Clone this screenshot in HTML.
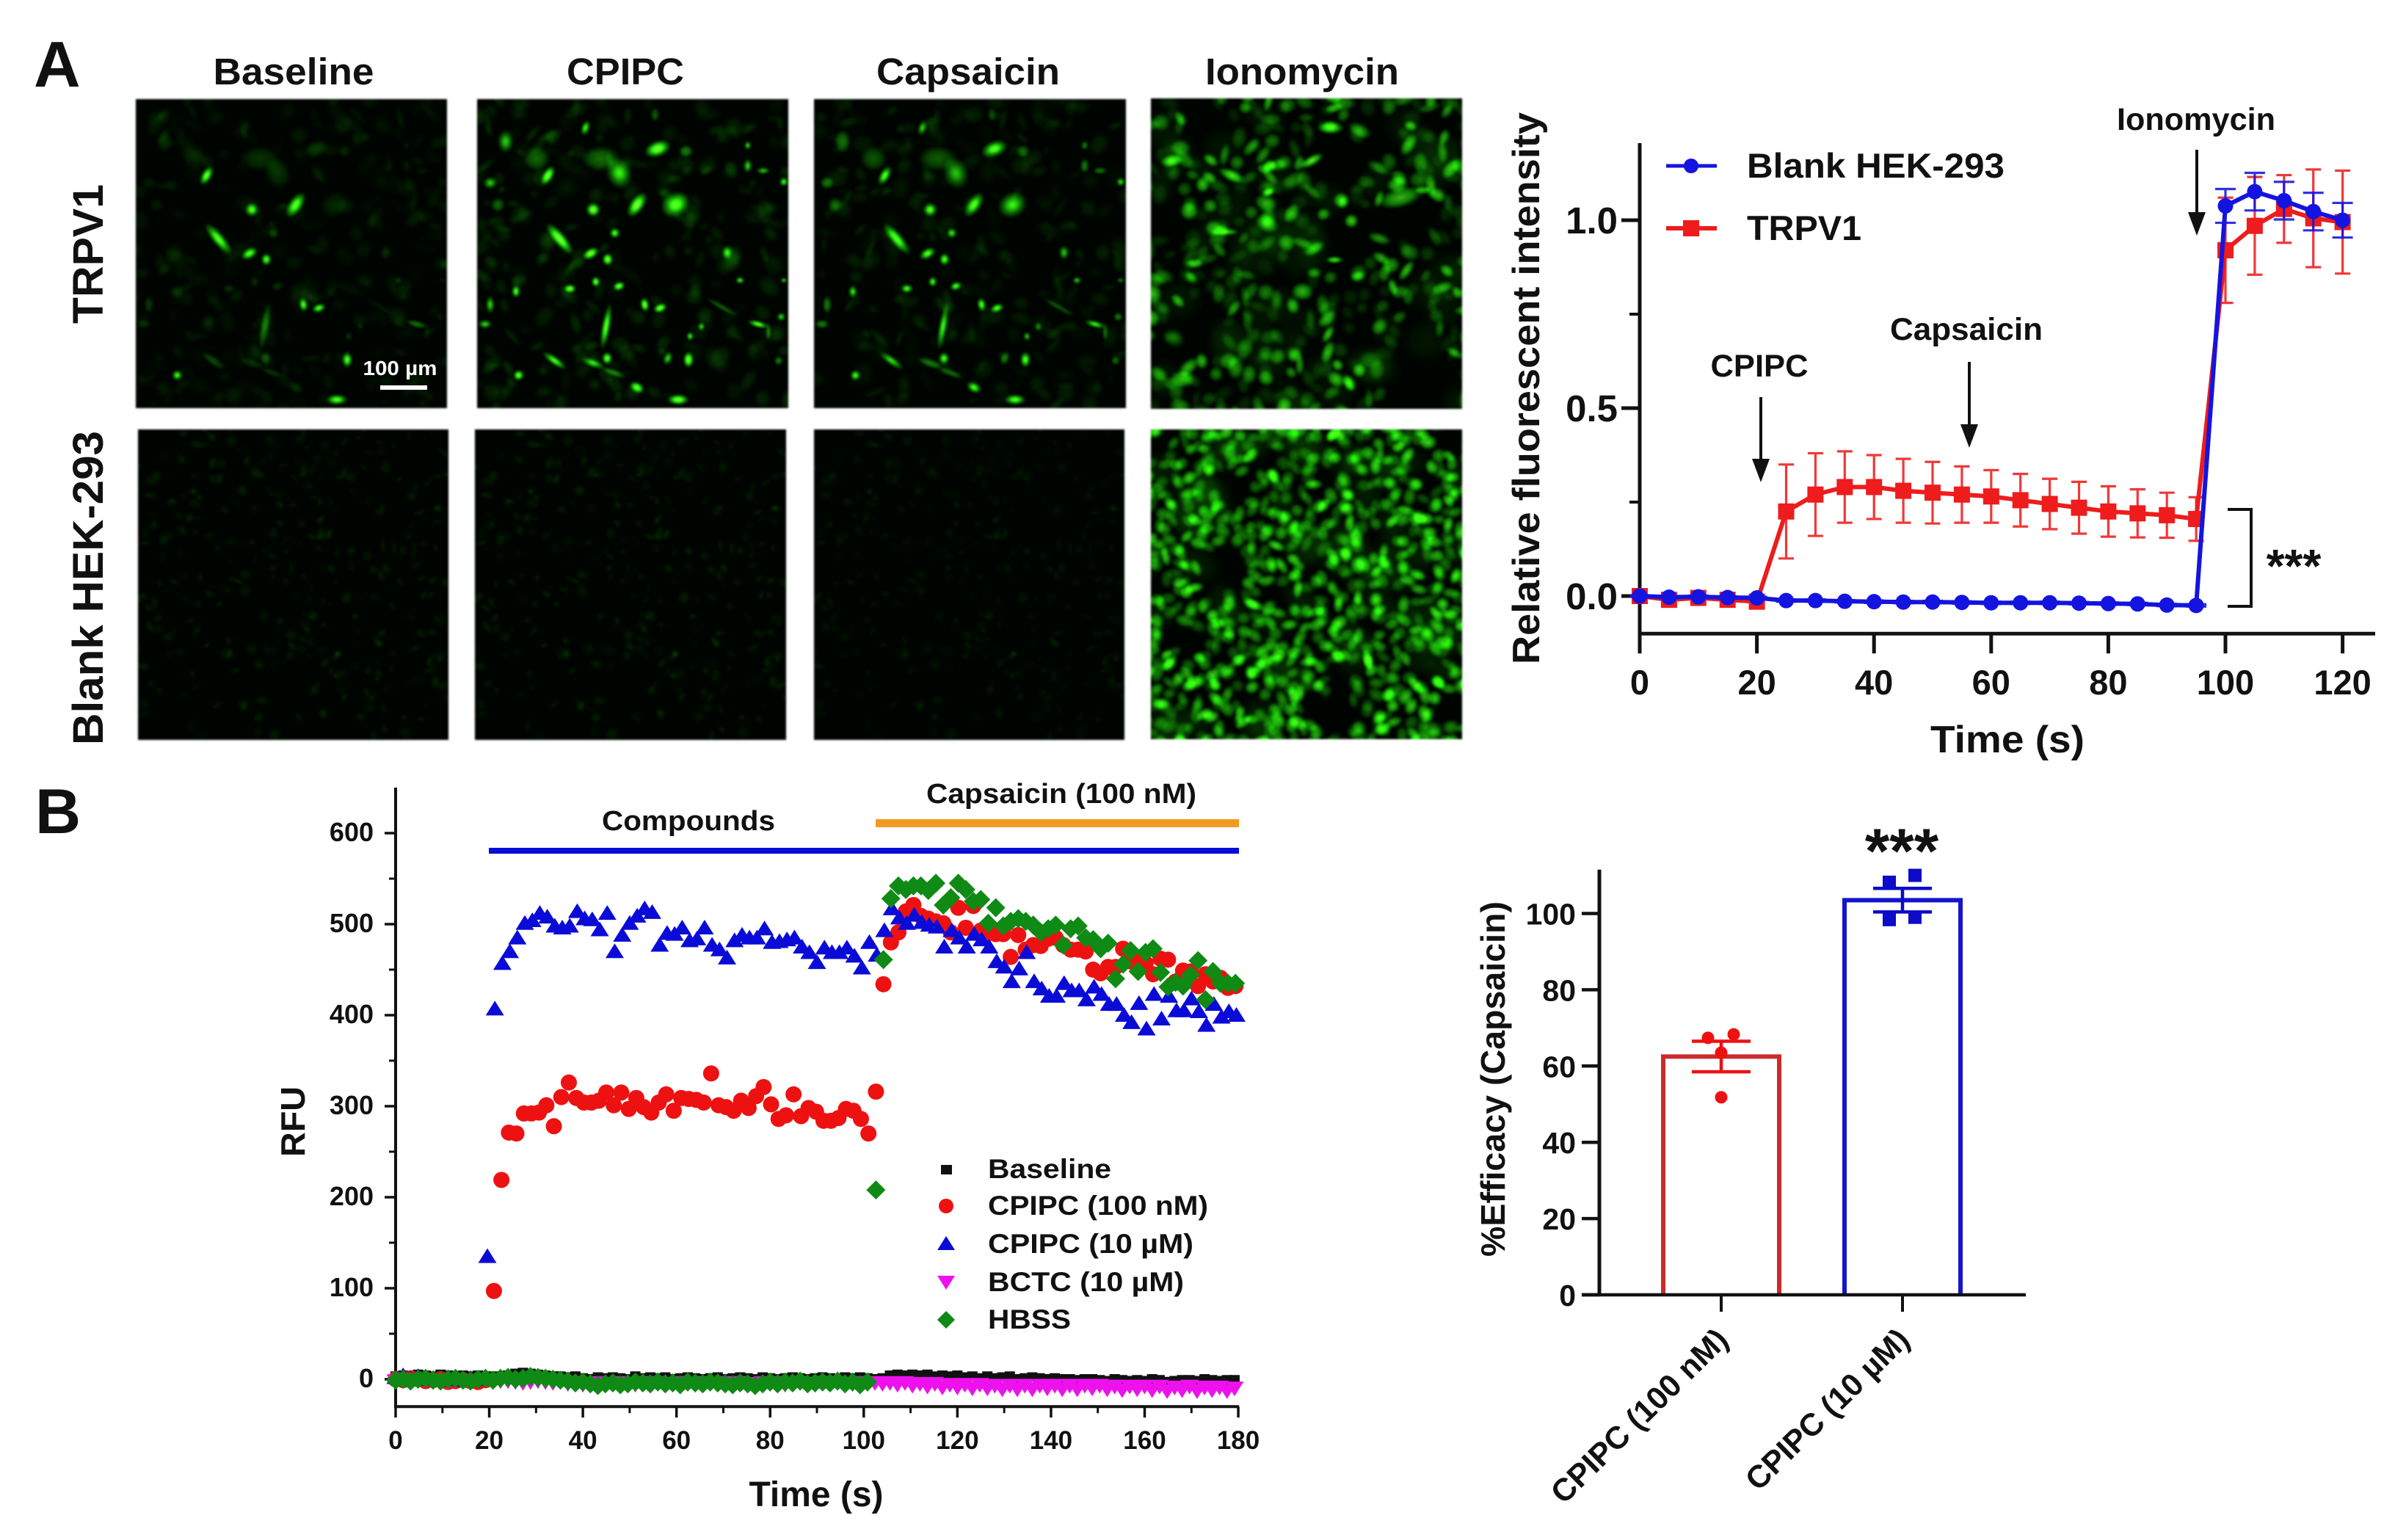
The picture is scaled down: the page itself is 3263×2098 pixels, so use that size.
<!DOCTYPE html>
<html lang="en">
<head>
<meta charset="utf-8">
<title>TRPV1 calcium imaging figure</title>
<style>
html,body{margin:0;padding:0;background:#fff;}
#figure{position:relative;width:3263px;height:2098px;overflow:hidden;background:#fff;font-family:"Liberation Sans",sans-serif;}
#figure canvas{position:absolute;display:block;background:#000;filter:blur(1.4px);}
#figure svg{position:absolute;left:0;top:0;}
text{font-family:"Liberation Sans",sans-serif;font-weight:bold;fill:#111;}
</style>
</head>
<body>
<div id="figure">
<canvas id="p11" width="424" height="421" style="left:185px;top:135px"></canvas>
<canvas id="p12" width="424" height="421" style="left:650px;top:135px"></canvas>
<canvas id="p13" width="425" height="421" style="left:1109px;top:135px"></canvas>
<canvas id="p14" width="424" height="423" style="left:1568px;top:134px"></canvas>
<canvas id="p21" width="423" height="423" style="left:188px;top:585px"></canvas>
<canvas id="p22" width="424" height="423" style="left:647px;top:585px"></canvas>
<canvas id="p23" width="423" height="423" style="left:1109px;top:585px"></canvas>
<canvas id="p24" width="424" height="422" style="left:1568px;top:585px"></canvas>

<svg id="chart" width="3263" height="2098" viewBox="0 0 3263 2098" xmlns="http://www.w3.org/2000/svg">
  <!-- panel letters and micrograph labels -->
  <text x="46" y="118" font-size="88">A</text>
  <text x="48" y="1135" font-size="86">B</text>
  <text x="400" y="115" font-size="51" text-anchor="middle" textLength="219" lengthAdjust="spacingAndGlyphs">Baseline</text>
  <text x="852" y="115" font-size="51" text-anchor="middle" textLength="160" lengthAdjust="spacingAndGlyphs">CPIPC</text>
  <text x="1319" y="115" font-size="51" text-anchor="middle" textLength="250" lengthAdjust="spacingAndGlyphs">Capsaicin</text>
  <text x="1774" y="115" font-size="51" text-anchor="middle" textLength="264" lengthAdjust="spacingAndGlyphs">Ionomycin</text>
  <text transform="translate(140,346) rotate(-90)" font-size="58" text-anchor="middle" textLength="190" lengthAdjust="spacingAndGlyphs">TRPV1</text>
  <text transform="translate(140,801) rotate(-90)" font-size="58" text-anchor="middle" textLength="428" lengthAdjust="spacingAndGlyphs">Blank HEK-293</text>
  <text x="545" y="511" font-size="28" text-anchor="middle" style="fill:#fff" textLength="101" lengthAdjust="spacingAndGlyphs">100 µm</text>
  <rect x="518" y="525" width="64" height="6" fill="#fff"/>

  <!-- chart A annotations -->
  <g id="chartA"></g>
  <text transform="translate(2097,529) rotate(-90)" font-size="52" text-anchor="middle" textLength="752" lengthAdjust="spacingAndGlyphs">Relative fluorescent intensity</text>
  <text x="2735" y="1025" font-size="52" text-anchor="middle" textLength="210" lengthAdjust="spacingAndGlyphs">Time (s)</text>
  <g>
    <line x1="2270" y1="226" x2="2339" y2="226" stroke="#1414e0" stroke-width="5"/>
    <circle cx="2304" cy="226" r="10" fill="#1414e0"/>
    <text x="2380" y="242" font-size="47" textLength="351" lengthAdjust="spacingAndGlyphs">Blank HEK-293</text>
    <line x1="2270" y1="311" x2="2339" y2="311" stroke="#ee1c1c" stroke-width="6"/>
    <rect x="2293" y="300" width="22" height="22" fill="#ee1c1c"/>
    <text x="2380" y="327" font-size="47" textLength="156" lengthAdjust="spacingAndGlyphs">TRPV1</text>
  </g>
  <text x="2397" y="513" font-size="43" text-anchor="middle" textLength="133" lengthAdjust="spacingAndGlyphs">CPIPC</text>
  <text x="2679" y="463" font-size="43" text-anchor="middle" textLength="208" lengthAdjust="spacingAndGlyphs">Capsaicin</text>
  <text x="2992" y="177" font-size="43" text-anchor="middle" textLength="216" lengthAdjust="spacingAndGlyphs">Ionomycin</text>
  <g fill="#111" stroke="#111">
    <path d="M2399 541V630" stroke-width="4" fill="none"/>
    <path d="M2387 625H2411L2399 657Z" stroke="none"/>
    <path d="M2683 493V585" stroke-width="4" fill="none"/>
    <path d="M2671 578H2695L2683 610Z" stroke="none"/>
    <path d="M2993 204V295" stroke-width="4" fill="none"/>
    <path d="M2981 289H3005L2993 321Z" stroke="none"/>
  </g>
  <path d="M3035 694H3067V826H3035" fill="none" stroke="#111" stroke-width="4"/>
  <text x="3125" y="793" font-size="64" text-anchor="middle">***</text>

  <!-- chart B annotations -->
  <g id="chartB"></g>
  <text transform="translate(415,1528) rotate(-90)" font-size="46" text-anchor="middle" textLength="96" lengthAdjust="spacingAndGlyphs">RFU</text>
  <text x="1112" y="2052" font-size="48" text-anchor="middle" textLength="183" lengthAdjust="spacingAndGlyphs">Time (s)</text>
  <text x="938" y="1131" font-size="38" text-anchor="middle" textLength="236" lengthAdjust="spacingAndGlyphs">Compounds</text>
  <text x="1446" y="1094" font-size="38" text-anchor="middle" textLength="368" lengthAdjust="spacingAndGlyphs">Capsaicin (100 nM)</text>
  <rect x="666" y="1155" width="1022" height="8" fill="#0a0ad8"/>
  <rect x="1193" y="1116" width="495" height="11" fill="#f29a1e"/>
  <g>
    <rect x="1282" y="1587" width="15" height="13" fill="#111"/>
    <text x="1346" y="1605" font-size="37" textLength="168" lengthAdjust="spacingAndGlyphs">Baseline</text>
    <circle cx="1289" cy="1643" r="10" fill="#ee1111"/>
    <text x="1346" y="1655" font-size="37" textLength="300" lengthAdjust="spacingAndGlyphs">CPIPC (100 nM)</text>
    <path d="M1289 1684L1301 1703H1277Z" fill="#0b0bd8"/>
    <text x="1346" y="1707" font-size="37" textLength="280" lengthAdjust="spacingAndGlyphs">CPIPC (10 µM)</text>
    <path d="M1289 1757L1301 1738H1277Z" fill="#ee11ee"/>
    <text x="1346" y="1759" font-size="37" textLength="267" lengthAdjust="spacingAndGlyphs">BCTC (10 µM)</text>
    <path d="M1289 1786L1301 1798L1289 1810L1277 1798Z" fill="#0f8a14"/>
    <text x="1346" y="1810" font-size="37" textLength="113" lengthAdjust="spacingAndGlyphs">HBSS</text>
  </g>

  <!-- chart C annotations -->
  <g id="chartC"></g>
  <text transform="translate(2050,1470) rotate(-90)" font-size="46" text-anchor="middle" textLength="484" lengthAdjust="spacingAndGlyphs">%Efficacy (Capsaicin)</text>
  <text x="2591" y="1189" font-size="86" text-anchor="middle">***</text>
</svg>
</div>

<script>
/* ---------- Chart A data ---------- */
const timeA = [0,5,10,15,20,25,30,35,40,45,50,55,60,65,70,75,80,85,90,95,100,105,110,115,120];
const trpv1Mean = [0,-0.01,-0.005,-0.01,-0.015,0.225,0.27,0.29,0.29,0.28,0.275,0.27,0.265,0.255,0.245,0.235,0.225,0.22,0.215,0.205,0.92,0.985,1.03,1.005,0.995];
const trpv1Sem = [0.006,0.01,0.008,0.012,0.012,0.125,0.11,0.095,0.085,0.085,0.082,0.075,0.07,0.07,0.067,0.069,0.067,0.064,0.06,0.058,0.14,0.13,0.09,0.13,0.137];
const blankMean = [0,-0.003,-0.002,-0.004,-0.005,-0.012,-0.012,-0.014,-0.015,-0.016,-0.016,-0.017,-0.018,-0.018,-0.018,-0.019,-0.02,-0.021,-0.024,-0.025,1.038,1.076,1.052,1.023,1.0];
const blankSem = [0.002,0.003,0.003,0.003,0.003,0.003,0.003,0.003,0.003,0.003,0.003,0.003,0.003,0.003,0.003,0.003,0.003,0.003,0.003,0.003,0.045,0.05,0.05,0.05,0.046];
const xTicksA = [0,20,40,60,80,100,120];
const yTicksA = [0,0.5,1];
const yTickLabelsA = ['0.0','0.5','1.0'];
const yMinorTicksA = [0.25,0.75];

/* ---------- Chart B data ---------- */
const xTicksB = [0,20,40,60,80,100,120,140,160,180];
const xMinorTicksB = [10,30,50,70,90,110,130,150,170];
const yTicksB = [0,100,200,300,400,500,600];
const yMinorTicksB = [50,150,250,350,450,550];
const stepB = 1.6;
const baselineRfu = [3,4,3,5,4,3,5,4,3,4,3,4,3,3,2,4,6,7,6,5,4,3,3,2,3,1,0,2,1,2,1,0,3,1,2,1,2,0,1,2,1,0,1,2,0,1,2,1,0,2,1,0,1,2,1,0,1,2,1,0,2,1,2,1,0,1,4,5,4,5,4,5,3,4,3,4,2,3,1,3,1,2,3,0,1,2,1,0,1,0,0,-1,0,0,-1,-2,0,-1,-2,-1,-2,0,-1,-3,-2,-1,-1,-2,0,-1,-2,-1,-1];
const bctcRfu = [-1,0,-2,-1,0,-2,-1,-2,0,-1,-2,-1,0,-2,-1,-1,-2,-3,-2,-1,-2,-3,-2,-4,-3,-5,-4,-3,-5,-4,-3,-4,-5,-3,-4,-3,-5,-4,-3,-4,-5,-3,-4,-5,-3,-4,-3,-4,-5,-3,-4,-3,-5,-4,-3,-4,-5,-3,-4,-3,-5,-4,-3,-4,-3,-4,-3,-5,-3,-6,-4,-7,-4,-8,-5,-8,-5,-9,-5,-9,-6,-10,-6,-10,-6,-10,-6,-9,-6,-10,-6,-10,-6,-9,-6,-10,-7,-11,-7,-10,-7,-11,-7,-12,-8,-11,-7,-12,-8,-11,-8,-12,-9];
const cpipc100Early = [0,-1,1,0,-2,-1,0,-3,-2,-1,-2,-3,-1];
const cpipc100Rfu = [97,219,271,270,292,292,293,301,278,310,326,309,304,304,306,315,301,315,297,309,299,293,304,313,295,309,308,307,304,336,301,299,295,306,298,311,321,302,286,290,313,289,298,294,284,284,287,297,295,286,270,316,434,480,491,514,521,509,506,503,501,491,518,496,520,493,490,489,489,464,488,472,477,476,484,485,477,472,472,470,450,446,453,453,473,459,461,457,445,462,461,437,449,448,432,445,437,441,430,432];
const cpipc10Early = [2,4,1,3,0,1,-1,2,0,-1,1,0];
const cpipc10Rfu = [135,407,457,470,485,501,504,512,508,498,496,498,514,506,505,494,512,470,488,501,509,517,513,477,490,489,496,482,484,496,477,472,463,482,488,485,485,495,480,481,483,485,475,469,458,474,469,469,474,465,452,480,466,493,517,507,501,510,502,499,497,475,493,485,475,489,483,475,459,453,437,451,469,437,429,421,421,435,427,427,417,431,423,412,412,400,392,413,385,423,396,421,405,405,418,404,389,412,398,404,400];
const hbssEarly = [-1,0,-2,0,1,-1,-2,0,1,-1,-2,0,1,-1,1,2,0,1,3,2,1,0,-1,-2,-4,-3,-5,-7,-5,-4,-6,-5,-3,-4,-5,-3,-5,-4,-6,-3,-4,-5,-3,-4,-5,-6,-4,-5,-7,-5,-3,-5,-3,-4,-2,-5,-4,-3,-4,-2,-5,-3,-6,-3];
const hbssLate = [208,461,528,542,538,542,542,537,545,521,529,545,538,525,527,501,518,498,503,506,503,499,491,495,499,477,495,498,485,483,473,479,440,456,471,448,469,473,447,431,436,432,444,460,417,448,435,435,435];

/* ---------- Chart C data ---------- */
const barCategories = ['CPIPC (100 nM)','CPIPC (10 µM)'];
const barMeans = [62.5,103.5];
const barSems = [4,3.1];
const efficacyRed = [68.3,67.4,63.5,51.8];
const efficacyBlue = [110,108.2,99,98.4];
const yTicksC = [0,20,40,60,80,100];

/* ---------- Axis functions ---------- */
const xA = t => 2234 + t * 7.98;
const yA = v => 812 - v * 512;
const xB = t => 539 + t * 6.378;
const yB = v => 1879 - v * 1.24;
const yC = v => 1764 - v * 5.195;
const xC = i => 2345 + i * 247;

const NS = 'http://www.w3.org/2000/svg';
function mk(tag, parent, attrs, txt){
  const e = document.createElementNS(NS, tag);
  for (const k in attrs) e.setAttribute(k, attrs[k]);
  if (txt !== undefined) e.textContent = txt;
  parent.appendChild(e);
  return e;
}
const RED = '#ee1c1c', BLUE = '#1414e0', INK = '#111';

/* ---------- Chart A ---------- */
(function(){
  const g = document.getElementById('chartA');
  const yAxis = mk('line', g, {x1:xA(0),y1:yA(1.205),x2:xA(0),y2:yA(-0.1)+3,stroke:INK,'stroke-width':5});
  
  
  const xAxis = mk('line', g, {x1:xA(0)-2,y1:yA(-0.1),x2:3236,y2:yA(-0.1),stroke:INK,'stroke-width':5});
  
  
  xTicksA.forEach(t => {
    const k = mk('line', g, {x1:xA(t),y1:yA(-0.1),x2:xA(t),y2:yA(-0.1)+27,stroke:INK,'stroke-width':5});
    
    
    const l = mk('text', g, {x:xA(t),y:946,'font-size':47,'text-anchor':'middle'}, String(t));
    
    
  });
  yTicksA.forEach((v,i) => {
    const k = mk('line', g, {x1:xA(0)-25,y1:yA(v),x2:xA(0),y2:yA(v),stroke:INK,'stroke-width':5});
    
    
    const l = mk('text', g, {x:2204,y:yA(v)+18,'font-size':51,'text-anchor':'end'}, yTickLabelsA[i]);
    
    
  });
  yMinorTicksA.forEach(v => {
    const k = mk('line', g, {x1:xA(0)-14,y1:yA(v),x2:xA(0),y2:yA(v),stroke:INK,'stroke-width':4});
    
    
  });
  function series(mean, sem, color, capW, shape, name){
    timeA.forEach((t,i) => {
      const hi = yA(mean[i] + sem[i]), lo = yA(mean[i] - sem[i]);
      const e = mk('path', g, {d:`M${xA(t)} ${hi}V${lo}M${xA(t)-capW/2} ${hi}h${capW}M${xA(t)-capW/2} ${lo}h${capW}`,stroke:color,'stroke-width':3.2,fill:'none',opacity:0.88});
      
      
    });
    const pts = timeA.map((t,i) => xA(t) + ',' + yA(mean[i])).join(' ');
    const line = mk('polyline', g, {points:pts,fill:'none',stroke:color,'stroke-width':6,'stroke-linejoin':'round'});
    
    
    timeA.forEach((t,i) => {
      let m;
      if (shape === 'square') m = mk('rect', g, {x:xA(t)-11,y:yA(mean[i])-11,width:22,height:22,fill:color});
      else m = mk('circle', g, {cx:xA(t),cy:yA(mean[i]),r:10.5,fill:color});
      
      
    });
  }
  series(trpv1Mean, trpv1Sem, RED, 21, 'square', 'trpv1');
  series(blankMean, blankSem, BLUE, 28, 'circle', 'blank-hek');
})();

/* ---------- Chart B ---------- */
(function(){
  const g = document.getElementById('chartB');
  const yAxis = mk('line', g, {x1:xB(0),y1:yB(650),x2:xB(0),y2:yB(-30)+2,stroke:INK,'stroke-width':4});
  
  
  const xAxis = mk('line', g, {x1:xB(0),y1:yB(-30),x2:xB(180)+1,y2:yB(-30),stroke:INK,'stroke-width':4});
  
  
  xTicksB.forEach(t => {
    const k = mk('line', g, {x1:xB(t),y1:yB(-30),x2:xB(t),y2:yB(-30)+15,stroke:INK,'stroke-width':3.5});
    
    
    const l = mk('text', g, {x:xB(t),y:1974,'font-size':35,'text-anchor':'middle'}, String(t));
    
    
  });
  xMinorTicksB.forEach(t => {
    const k = mk('line', g, {x1:xB(t),y1:yB(-30),x2:xB(t),y2:yB(-30)+9,stroke:INK,'stroke-width':3});
    
    
  });
  yTicksB.forEach(v => {
    const k = mk('line', g, {x1:xB(0)-15,y1:yB(v),x2:xB(0),y2:yB(v),stroke:INK,'stroke-width':3.5});
    
    
    const l = mk('text', g, {x:509,y:yB(v)+11,'font-size':36,'text-anchor':'end'}, String(v));
    
    
  });
  yMinorTicksB.forEach(v => {
    const k = mk('line', g, {x1:xB(0)-9,y1:yB(v),x2:xB(0),y2:yB(v),stroke:INK,'stroke-width':3});
    
    
  });
  function circle(t,v,c){ return mk('circle', g, {cx:xB(t),cy:yB(v),r:11,fill:c}); }
  function up(t,v,c){ const x=xB(t),y=yB(v); return mk('path', g, {d:`M${x} ${y-11}L${x+12.5} ${y+9}H${x-12.5}Z`,fill:c}); }
  function down(t,v,c){ const x=xB(t),y=yB(v); return mk('path', g, {d:`M${x} ${y+12}L${x+12.5} ${y-8}H${x-12.5}Z`,fill:c}); }
  function diamond(t,v,c){ const x=xB(t),y=yB(v); return mk('path', g, {d:`M${x} ${y-13}L${x+13} ${y}L${x} ${y+13}L${x-13} ${y}Z`,fill:c}); }
  baselineRfu.forEach((v,i) => {
    const t = i * stepB, x = xB(t), y = yB(v);
    const m = mk('rect', g, {x:x-7,y:y-7,width:14,height:13,fill:INK});
    
    
  });
  cpipc100Early.forEach((v,i) => {
    const m = circle(i * stepB, v, '#ee1111');
    
    
  });
  cpipc10Early.forEach((v,i) => {
    const m = up(i * stepB, v, '#0b0bd8');
    
    
  });
  bctcRfu.forEach((v,i) => {
    const m = down(i * stepB, v, '#ee11ee');
    
    
  });
  cpipc100Rfu.forEach((v,i) => {
    const m = circle(21 + i * stepB, v, '#ee1111');
    
    
  });
  cpipc10Rfu.forEach((v,i) => {
    const m = up(19.6 + i * stepB, v, '#0b0bd8');
    
    
  });
  hbssEarly.forEach((v,i) => {
    const m = diamond(i * stepB, v, '#0f8a14');
    
    
  });
  hbssLate.forEach((v,i) => {
    const m = diamond(102.6 + i * stepB, v, '#0f8a14');
    
    
  });
})();

/* ---------- Chart C ---------- */
(function(){
  const g = document.getElementById('chartC');
  const colors = ['#cc2a2c','#1414d0'];
  const dots = ['#ee1111','#0b0bc8'];
  const sets = [efficacyRed, efficacyBlue];
  barMeans.forEach((m,i) => {
    const cx = xC(i);
    const b = mk('path', g, {d:`M${cx-79} ${yC(0)}V${yC(m)}H${cx+79}V${yC(0)}`,fill:'#fff',stroke:colors[i],'stroke-width':6});
    
    
    const sorted = sets[i].slice().sort((a,c) => c - a);
    sorted.forEach((v,j) => {
      const closeNext = j < sorted.length - 1 && sorted[j] - sorted[j+1] < 2.5;
      const closePrev = j > 0 && sorted[j-1] - sorted[j] < 2.5;
      const off = closeNext ? 17 : (closePrev ? -18 : 0);
      let d;
      if (i === 0) d = mk('circle', g, {cx:cx+off,cy:yC(v),r:8.5,fill:dots[i]});
      else d = mk('rect', g, {x:cx+off-9,y:yC(v)-9,width:18,height:18,fill:dots[i]});
      
      
    });
    const hi = yC(m + barSems[i]), lo = yC(m - barSems[i]);
    const e = mk('path', g, {d:`M${cx} ${hi}V${lo}M${cx-40} ${hi}h80M${cx-40} ${lo}h80`,stroke:dots[i],'stroke-width':4.5,fill:'none'});
    
    
    const k = mk('line', g, {x1:cx,y1:yC(0),x2:cx,y2:yC(0)+23,stroke:INK,'stroke-width':4});
    
    
    const l = mk('text', g, {transform:`translate(${cx+12},${yC(0)+64}) rotate(-44.5)`,'font-size':43,'text-anchor':'end','font-weight':'bold'}, barCategories[i]);
    
    
  });
  const yAxis = mk('line', g, {x1:2179,y1:yC(111.5),x2:2179,y2:yC(0)+2,stroke:INK,'stroke-width':5});
  
  
  const xAxis = mk('line', g, {x1:2155,y1:yC(0),x2:2760,y2:yC(0),stroke:INK,'stroke-width':4.5});
  
  
  yTicksC.forEach(v => {
    const k = mk('line', g, {x1:2155,y1:yC(v),x2:2179,y2:yC(v),stroke:INK,'stroke-width':4.5});
    
    
    const l = mk('text', g, {x:2147,y:yC(v)+15,'font-size':41,'text-anchor':'end'}, String(v));
    
    
  });
})();

/* ---------- Micrograph texture (image content, not chart data) ---------- */
function prng(seed){
  return function(){
    seed |= 0; seed = seed + 0x6D2B79F5 | 0;
    let t = Math.imul(seed ^ seed >>> 15, 1 | seed);
    t = t + Math.imul(t ^ t >>> 7, 61 | t) ^ t;
    return ((t ^ t >>> 14) >>> 0) / 4294967296;
  };
}
function blob(ctx,x,y,rx,ry,deg,a){
  ctx.save();
  ctx.translate(x,y);
  ctx.rotate(deg*Math.PI/180);
  ctx.scale(rx,ry);
  const gr = ctx.createRadialGradient(0,0,0,0,0,1);
  const hot = Math.min(1,a);
  gr.addColorStop(0,`rgba(${Math.round(40+90*hot*hot)},255,${Math.round(10+40*hot*hot)},${hot})`);
  gr.addColorStop(0.55,`rgba(30,235,12,${hot*0.72})`);
  gr.addColorStop(1,'rgba(20,200,0,0)');
  ctx.fillStyle = gr;
  ctx.beginPath();
  ctx.arc(0,0,1,0,Math.PI*2);
  ctx.fill();
  ctx.restore();
}
function start(id){
  const c = document.getElementById(id), ctx = c.getContext('2d');
  ctx.fillStyle = '#000400';
  ctx.fillRect(0,0,c.width,c.height);
  ctx.globalCompositeOperation = 'lighter';
  return {ctx, w:c.width, h:c.height};
}
/* field of view shared by the TRPV1 panels: x, y, rx, ry, angle, baseline level, stimulated level */
const fieldCells = [
[1275,305,15,9,-20,.25,1],[1200,355,14,18,-20,.2,.62],[1235,420,8,16,35,.95,1],[1310,420,17,14,-30,.15,.8],
[1150,430,8,8,0,.9,1],[1062,360,6,12,30,1,1],[1165,325,22,14,0,.2,.42],[1040,325,15,14,0,.1,.4],
[980,290,9,13,0,.12,.55],[1135,262,5,9,20,.1,.7],[1085,490,7,22,-40,.9,1],[1145,520,10,6,-30,.9,1],
[1178,532,6,7,0,.9,1],[1192,478,6,6,0,.3,.8],[1155,578,5,6,0,.2,.9],[1105,592,7,5,0,.2,.95],
[1200,587,7,5,-20,.2,.95],[1000,598,5,7,0,.1,.8],[1250,625,5,8,-10,.9,1],[1280,632,8,5,-20,.9,1],
[1175,670,5,26,10,.45,.85],[1177,735,6,7,0,.35,.9],[1335,738,6,9,0,.9,1],[1338,690,4,5,0,.2,.7],
[1360,670,4,5,0,.15,.6],[1470,665,12,4,15,.5,.85],[1075,740,16,5,35,.3,.75],[1005,770,6,6,0,.8,.9],
[1235,795,9,6,30,.2,.9],[1315,820,12,6,0,.9,1],[1410,518,6,8,0,.2,.65],[1435,575,5,4,0,.2,.7],
[1520,373,5,5,0,.1,.75],[1450,340,5,8,0,.1,.6],[1480,350,8,4,0,.1,.55],[1450,298,4,5,0,.1,.6],
[1330,310,8,7,0,.15,.5],[1270,235,5,8,0,.05,.35],[950,375,8,7,0,.1,.55],[950,625,5,10,0,.25,.6],
[940,665,8,5,0,.2,.6],[965,420,8,8,0,.1,.4],[1515,650,5,5,0,.1,.6],[1510,740,5,5,0,.05,.5],
[1520,575,4,3,0,.1,.6],[1490,680,3,10,0,.1,.5],[1295,735,5,8,20,.1,.6],[1150,745,14,5,20,.2,.6],
[1190,765,14,4,20,.2,.5],[1400,630,20,3,30,.1,.4]
];
function fieldPanel(id, mode, dimLevel, seed){
  const {ctx} = start(id);
  const r = prng(seed);
  for (let i=0;i<260;i++){
    blob(ctx, r()*424, r()*421, 6+r()*14, 5+r()*10, r()*180, dimLevel*(0.3+r()));
  }
  fieldCells.forEach(c => {
    const x = (c[0]-926)/1.425 + 1, y = (c[1]-203)/1.507;
    const level = mode === 0 ? c[5]*0.9 : (mode === 1 ? c[6] : c[6]*0.82);
    blob(ctx, x, y, c[2]*1.25, c[3]*1.25, c[4], level);
    if (level > 0.5) blob(ctx, x, y, c[2]*0.7, c[3]*0.7, c[4], level*0.55);
  });
}
fieldPanel('p11', 0, 0.07, 11);
fieldPanel('p12', 1, 0.12, 12);
fieldPanel('p13', 2, 0.09, 13);

function dimPanel(id, level, seed){
  const {ctx, w, h} = start(id);
  const r = prng(seed);
  for (let i=0;i<330;i++){
    blob(ctx, r()*w, r()*h, 3+r()*8, 3+r()*7, r()*180, level*(0.25+r()));
  }
}
dimPanel('p21', 0.085, 21);
dimPanel('p22', 0.085, 21);
dimPanel('p23', 0.06, 21);

const ionoTopHoles = [[.63,.46,.1],[.83,.37,.1],[.87,.92,.13],[.86,.72,.06],[.05,.83,.06],[.06,.39,.05],[.18,.1,.07],[.43,.58,.07],[.45,.72,.05],[.16,.74,.09],[.95,.5,.05],[.6,.2,.09],[.75,.1,.06],[.7,.78,.05]];
const ionoBottomHoles = [[.26,.19,.06],[.56,.16,.04],[.53,.43,.05],[.42,.53,.04],[.1,.67,.05],[.6,.79,.05],[.59,.91,.07],[.23,.43,.07],[.97,.9,.06],[.97,.03,.05],[.86,.12,.04],[.38,.1,.04],[.74,.35,.04],[.69,.63,.04],[.78,.54,.04],[.89,.78,.04],[.19,.5,.05],[.31,.87,.04],[.03,.05,.04]];
function inHole(u,v,list){
  return list.some(h => Math.hypot(u-h[0], v-h[1]) < h[2]);
}
function ionoPanel(id, holes, spacing, rMin, rSpan, aMin, aSpan, haze, seed){
  const {ctx, w, h} = start(id);
  const r = prng(seed);
  for (let i=0;i<70;i++){
    const px = r()*w, py = r()*h;
    if (inHole(px/w, py/h, holes)) continue;
    blob(ctx, px, py, 26+r()*14, 22+r()*12, r()*180, haze);
  }
  for (let y=0;y<h+spacing;y+=spacing){
    for (let x=0;x<w+spacing;x+=spacing){
      const px = x + (r()-.5)*spacing*1.1, py = y + (r()-.5)*spacing*1.1;
      if (inHole(px/w, py/h, holes)) continue;
      const bright = r();
      const a = aMin + aSpan*bright*bright;
      blob(ctx, px, py, rMin + r()*rSpan, (rMin + r()*rSpan)*0.72, r()*180, a);
    }
  }
}
ionoPanel('p14', ionoTopHoles, 21, 9, 9, 0.13, 0.62, 0.07, 14);
(function(){
  const {ctx} = {ctx:document.getElementById('p14').getContext('2d')};
  const bright = [[245,40,18,9,0,.9],[219,85,18,7,-30,.95],[28,85,16,9,-10,.9],[162,92,10,9,0,.9],[110,105,20,8,25,.8],[160,128,9,6,-20,.9],[340,135,32,14,-15,.7],[370,125,12,6,0,.7],[273,167,10,10,0,.8],[250,220,12,5,0,.9],[100,182,20,5,0,.85],[60,225,12,7,0,.8]];
  bright.forEach(b => blob(ctx, b[0], b[1], b[2], b[3], b[4], b[5]));
})();
ionoPanel('p24', ionoBottomHoles, 16, 10, 5, 0.3, 0.55, 0.1, 24);
</script>
</body>
</html>
